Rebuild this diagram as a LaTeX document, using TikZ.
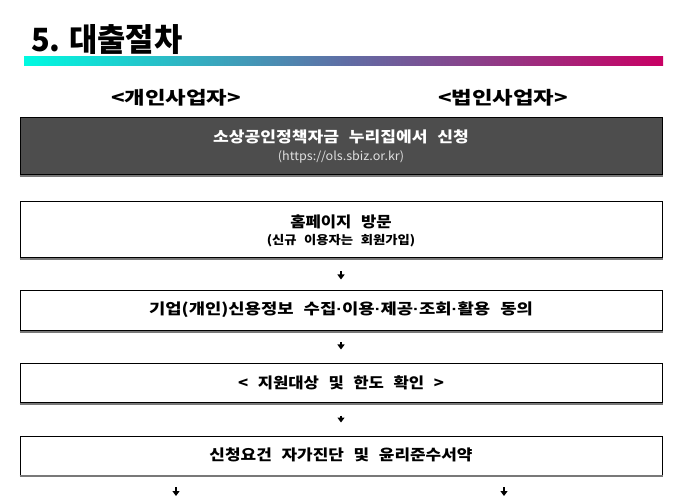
\documentclass[tikz,border=0pt]{standalone}
\usepackage{fontspec}
\setmainfont{Noto Sans CJK KR}
\newfontfamily\wfont[WordSpace=2.5]{Noto Sans CJK KR}
\newfontfamily\dotfont{Liberation Sans}
\usetikzlibrary{arrows.meta,calc}
\definecolor{gradL}{RGB}{0,250,225}
\definecolor{gradM}{RGB}{95,110,165}
\definecolor{gradR}{RGB}{200,0,100}
\definecolor{darkfill}{RGB}{77,77,77}
\definecolor{shadowgray}{RGB}{120,120,120}
\newcommand{\hstretch}[2]{\scalebox{#1}[1]{#2}}
\newcommand{\mdt}{{\dotfont\bfseries ·}}
\tikzset{
  stepbox/.style={draw=black, line width=1pt, fill=white, minimum width=642pt, inner sep=0pt},
  darkbox/.style={draw=black, line width=1pt, fill=darkfill, minimum width=642pt, inner sep=0pt},
  btxt/.style={font=\wfont\bfseries\fontsize{15}{18}\selectfont, text=black, inner sep=0pt},
  stxt/.style={font=\wfont\bfseries\fontsize{12}{14}\selectfont, text=black, inner sep=0pt},
  wtxt/.style={font=\wfont\bfseries\fontsize{15}{18}\selectfont, text=white, inner sep=0pt},
  lbl/.style={font=\bfseries\fontsize{18}{21}\selectfont, text=black, inner sep=0pt},
  arr/.style={line width=2.2pt, -{Triangle[width=7pt,length=5pt]}}
}
\begin{document}
\begin{tikzpicture}[x=1pt,y=-1pt]
\useasboundingbox (0,0) rectangle (680,502);
% title
\node[anchor=west, inner sep=0pt, font=\bfseries\fontsize{32}{36}\selectfont] (title) at (31,40) {\hstretch{0.96}{5.\hspace{9pt}대출절차}};
\shade[left color=gradL, right color=gradR, middle color=gradM] (24,57) rectangle (663,66);
\node[lbl] (lp) at (176,98) {\hstretch{1.24}{<개인사업자>}};
\node[lbl] (lc) at (503,98) {\hstretch{1.24}{<법인사업자>}};
% boxes
\node[darkbox, minimum height=57pt] (b1) at (341,146.5) {};
\node[wtxt] (b1a) at (341,137) {\hstretch{1.14}{소상공인정책자금 누리집에서 신청}};
\node[inner sep=0pt, text=white!88!black, font=\fontsize{12}{14}\selectfont] (b1b) at (341,157) {\hstretch{1.05}{(https://ols.sbiz.or.kr)}};

\node[stepbox, minimum height=56pt] (b2) at (341,230) {};
\node[btxt] (b2a) at (341,222) {\hstretch{1.11}{홈페이지 방문}};
\node[stxt] (b2b) at (341,241) {\hstretch{1.11}{(신규 이용자는 회원가입)}};

\node[stepbox, minimum height=40pt] (b3) at (341,311) {};
\node[btxt] (b3a) at (341,310) {\hstretch{1.18}{기업(개인)신용정보 수집\mdt 이용\mdt 제공\mdt 조회\mdt 활용 동의}};

\node[stepbox, minimum height=39pt] (b4) at (341,383.5) {};
\node[btxt] (b4a) at (341,383) {\hstretch{1.11}{< 지원대상 및 한도 확인 >}};

\node[stepbox, minimum height=39pt] (b5) at (341,455.5) {};
\node[btxt] (b5a) at (341,455) {\hstretch{1.13}{신청요건 자가진단 및 윤리준수서약}};

% shadow bottoms
\foreach \b in {b1,b2,b3,b4,b5}{
  \draw[shadowgray, line width=1.3pt] ([yshift=-0.4pt]\b.south west) -- ([yshift=-0.4pt]\b.south east);
}

% arrows
\draw[arr] ([yshift=-13pt]b2.south) -- ([yshift=11pt]b3.north);
\draw[arr] ([yshift=-11pt]b3.south) -- ([yshift=14pt]b4.north);
\draw[arr] ([yshift=-12pt]b4.south) -- ([yshift=13pt]b5.north);
\coordinate (l1) at (176,487);
\coordinate (l2) at (176,496);
\coordinate (r1) at (504,487);
\coordinate (r2) at (504,496);
\draw[arr] (l1) -- (l2);
\draw[arr] (r1) -- (r2);
\end{tikzpicture}
\end{document}
